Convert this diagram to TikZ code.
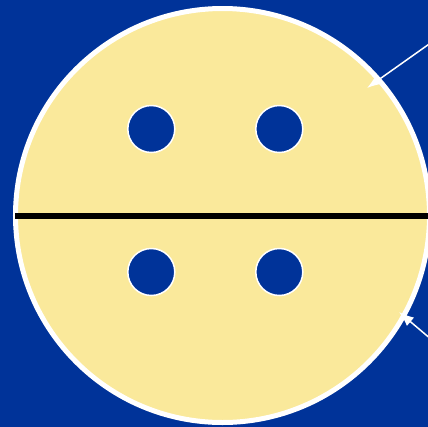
\documentclass[tikz,border=0pt]{standalone}
\usetikzlibrary{arrows.meta}
\usetikzlibrary{math}
\definecolor{myblue}{RGB}{0,51,153}
\definecolor{myyellow}{RGB}{250,233,155}

\begin{document}
\begin{tikzpicture}[x=1bp,y=-1bp]
\tikzmath{
\xc=222.5;
\yc=215.5;
\R=207;
\rd=23.5;
}
 \fill[color=myblue] (0,0) rectangle (428,427);
 \useasboundingbox (0,0) rectangle (428,427);

 \coordinate (C) at (\xc,\yc);
 \node[circle, draw=white, line width=5bp, fill=myyellow, minimum size=2*\R bp, inner sep=0pt] (disc) at (C) {};

 % holes
 \node[circle, draw=white, line width=1.5bp, fill=myblue, minimum size=2*\rd bp, inner sep=0pt] (h1) at (151.3,129) {};
 \node[circle, draw=white, line width=1.5bp, fill=myblue, minimum size=2*\rd bp, inner sep=0pt] (h2) at (279.3,129) {};
 \node[circle, draw=white, line width=1.5bp, fill=myblue, minimum size=2*\rd bp, inner sep=0pt] (h3) at (151.3,272) {};
 \node[circle, draw=white, line width=1.5bp, fill=myblue, minimum size=2*\rd bp, inner sep=0pt] (h4) at (279.3,272) {};

 \coordinate (L1) at (15,216);
 \coordinate (L2) at (430,216);
 \draw[line width=6bp] (L1) -- (L2);

 \coordinate (A1) at (432,42);
 \coordinate (T1) at (367,88);
 \coordinate (A2) at (432,340);
 \coordinate (T2) at (399,312);
 \draw[-{Latex[length=15bp,width=11bp]}, color=white, line width=1.5bp] (A1) -- (T1);
 \draw[-{Latex[length=15bp,width=11bp]}, color=white, line width=1.5bp] (A2) -- (T2);

\end{tikzpicture}
\end{document}
